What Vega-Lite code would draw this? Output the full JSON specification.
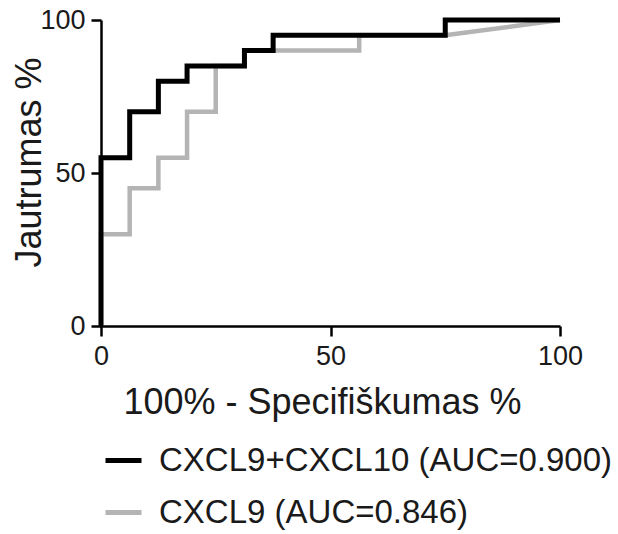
{
  "$schema": "https://vega.github.io/schema/vega-lite/v6.json",
  "width": 459,
  "height": 306,
  "autosize": {"type": "none"},
  "padding": {"left": 101, "top": 20, "right": 58, "bottom": 208},
  "background": "white",
  "config": {
    "view": {"stroke": null},
    "font": "Liberation Sans",
    "axis": {
      "grid": false,
      "domainColor": "black",
      "domainWidth": 2.5,
      "tickColor": "black",
      "tickWidth": 2.5,
      "tickSize": 10,
      "labelFontSize": 27,
      "labelColor": "#1a1a1a",
      "labelFont": "Liberation Sans",
      "titleFont": "Liberation Sans",
      "titleFontSize": 36,
      "titleFontWeight": "normal",
      "titleColor": "#1a1a1a"
    }
  },
  "datasets": {
    "roc": [
      {"series": "CXCL9 (AUC=0.846)", "i": 0, "fpr": 0, "tpr": 0},
      {"series": "CXCL9 (AUC=0.846)", "i": 1, "fpr": 0, "tpr": 30},
      {"series": "CXCL9 (AUC=0.846)", "i": 2, "fpr": 6.25, "tpr": 30},
      {"series": "CXCL9 (AUC=0.846)", "i": 3, "fpr": 6.25, "tpr": 45},
      {"series": "CXCL9 (AUC=0.846)", "i": 4, "fpr": 12.5, "tpr": 45},
      {"series": "CXCL9 (AUC=0.846)", "i": 5, "fpr": 12.5, "tpr": 55},
      {"series": "CXCL9 (AUC=0.846)", "i": 6, "fpr": 18.75, "tpr": 55},
      {"series": "CXCL9 (AUC=0.846)", "i": 7, "fpr": 18.75, "tpr": 70},
      {"series": "CXCL9 (AUC=0.846)", "i": 8, "fpr": 25, "tpr": 70},
      {"series": "CXCL9 (AUC=0.846)", "i": 9, "fpr": 25, "tpr": 85},
      {"series": "CXCL9 (AUC=0.846)", "i": 10, "fpr": 31.25, "tpr": 85},
      {"series": "CXCL9 (AUC=0.846)", "i": 11, "fpr": 31.25, "tpr": 90},
      {"series": "CXCL9 (AUC=0.846)", "i": 12, "fpr": 56.25, "tpr": 90},
      {"series": "CXCL9 (AUC=0.846)", "i": 13, "fpr": 56.25, "tpr": 95},
      {"series": "CXCL9 (AUC=0.846)", "i": 14, "fpr": 75, "tpr": 95},
      {"series": "CXCL9 (AUC=0.846)", "i": 15, "fpr": 100, "tpr": 100},
      {"series": "CXCL9+CXCL10 (AUC=0.900)", "i": 0, "fpr": 0, "tpr": 0},
      {"series": "CXCL9+CXCL10 (AUC=0.900)", "i": 1, "fpr": 0, "tpr": 55},
      {"series": "CXCL9+CXCL10 (AUC=0.900)", "i": 2, "fpr": 6.25, "tpr": 55},
      {"series": "CXCL9+CXCL10 (AUC=0.900)", "i": 3, "fpr": 6.25, "tpr": 70},
      {"series": "CXCL9+CXCL10 (AUC=0.900)", "i": 4, "fpr": 12.5, "tpr": 70},
      {"series": "CXCL9+CXCL10 (AUC=0.900)", "i": 5, "fpr": 12.5, "tpr": 80},
      {"series": "CXCL9+CXCL10 (AUC=0.900)", "i": 6, "fpr": 18.75, "tpr": 80},
      {"series": "CXCL9+CXCL10 (AUC=0.900)", "i": 7, "fpr": 18.75, "tpr": 85},
      {"series": "CXCL9+CXCL10 (AUC=0.900)", "i": 8, "fpr": 31.25, "tpr": 85},
      {"series": "CXCL9+CXCL10 (AUC=0.900)", "i": 9, "fpr": 31.25, "tpr": 90},
      {"series": "CXCL9+CXCL10 (AUC=0.900)", "i": 10, "fpr": 37.5, "tpr": 90},
      {"series": "CXCL9+CXCL10 (AUC=0.900)", "i": 11, "fpr": 37.5, "tpr": 95},
      {"series": "CXCL9+CXCL10 (AUC=0.900)", "i": 12, "fpr": 75, "tpr": 95},
      {"series": "CXCL9+CXCL10 (AUC=0.900)", "i": 13, "fpr": 75, "tpr": 100},
      {"series": "CXCL9+CXCL10 (AUC=0.900)", "i": 14, "fpr": 100, "tpr": 100}
    ]
  },
  "data": {"name": "roc"},
  "encoding": {
    "x": {
      "field": "fpr", "type": "quantitative",
      "scale": {"domain": [0, 100], "nice": false, "zero": false},
      "axis": {"values": [0, 50, 100], "title": "100% - Specifiškumas %", "labelPadding": 7, "labelFlush": false, "titleX": 221, "titleY": 87, "titleBaseline": "alphabetic", "titleAnchor": null, "titleAlign": "center"}
    },
    "y": {
      "field": "tpr", "type": "quantitative",
      "scale": {"domain": [0, 100], "nice": false, "zero": false},
      "axis": {"values": [0, 50, 100], "title": "Jautrumas %", "labelPadding": 6, "labelFlush": false, "titleX": -61, "titleY": 142, "titleBaseline": "alphabetic", "titleAnchor": null, "titleAlign": "center", "titleAngle": 270}
    },
    "order": {"field": "i", "type": "quantitative"},
    "color": {
      "field": "series", "type": "nominal",
      "scale": {"domain": ["CXCL9+CXCL10 (AUC=0.900)", "CXCL9 (AUC=0.846)"], "range": ["black", "#b4b4b4"]},
      "legend": {
        "title": null,
        "orient": "none",
        "legendX": 2,
        "legendY": 420,
        "symbolType": "stroke",
        "symbolSize": 1296,
        "symbolStrokeWidth": 5,
        "labelFontSize": 33,
        "labelColor": "#1a1a1a",
        "labelFont": "Liberation Sans",
        "labelOffset": 15,
        "rowPadding": 14,
        "labelLimit": 600
      }
    }
  },
  "layer": [
    {
      "transform": [{"filter": "datum.series === 'CXCL9 (AUC=0.846)'"}],
      "mark": {"type": "line", "strokeWidth": 4.5, "strokeJoin": "miter", "strokeCap": "butt"}
    },
    {
      "transform": [{"filter": "datum.series === 'CXCL9+CXCL10 (AUC=0.900)'"}],
      "mark": {"type": "line", "strokeWidth": 5, "strokeJoin": "miter", "strokeCap": "butt"}
    }
  ]
}
